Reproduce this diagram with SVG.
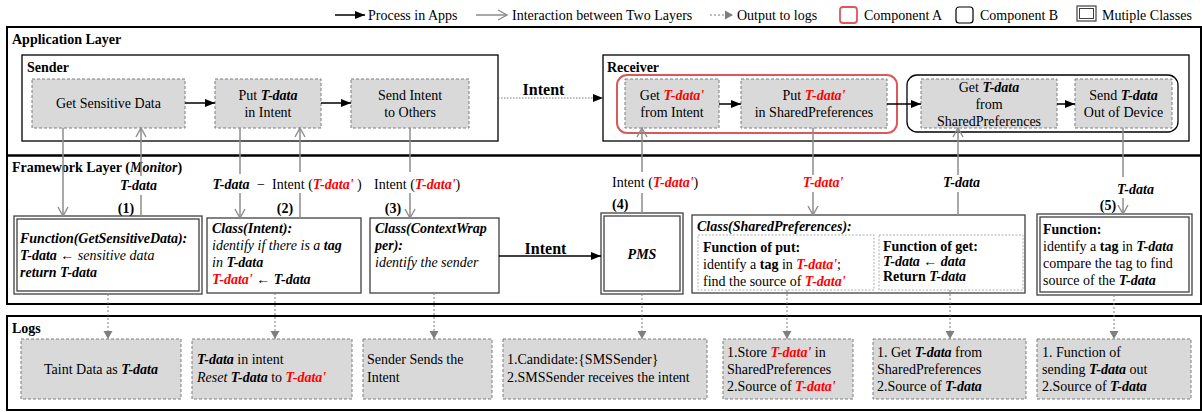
<svg xmlns="http://www.w3.org/2000/svg" width="1202" height="412" viewBox="0 0 1202 412">
<style>
text{font-family:"Liberation Serif","Times New Roman",serif;font-size:14px;fill:#000}
.b{font-weight:bold}
.i{font-style:italic}
.bi{font-weight:bold;font-style:italic}
.r{font-weight:bold;font-style:italic;fill:#ff0000}
.c{text-anchor:middle}
.big{font-size:16px;font-weight:bold}
.box{fill:#d9d9d9;stroke:#7f7f7f;stroke-dasharray:3 2;stroke-width:1}
.lay{fill:none;stroke:#000;stroke-width:2}
.cont{fill:none;stroke:#000;stroke-width:1.3}
.fw{fill:#fff;stroke:#404040;stroke-width:1.3}
.fwi{fill:none;stroke:#404040;stroke-width:1.3}
.inner{fill:none;stroke:#b0b0b0;stroke-width:1;stroke-dasharray:2 1.5}
.proc{stroke:#000;stroke-width:1.5;fill:none}
.inter{stroke:#8c8c8c;stroke-width:1.5;fill:none}
.out{stroke:#7f7f7f;stroke-width:1;stroke-dasharray:2 2;fill:none}
.pdot{stroke:#555;stroke-width:0.8;stroke-dasharray:1.5 1.5;fill:none}
</style>
<defs>
<marker id="blk" markerUnits="userSpaceOnUse" markerWidth="10" markerHeight="10" refX="10" refY="5" orient="auto"><path d="M0,1 L10,5 L0,9 z" fill="#000"/></marker>
<marker id="gry" markerUnits="userSpaceOnUse" markerWidth="12" markerHeight="12" refX="10" refY="6" orient="auto"><path d="M1,1 L10,6 L1,11" fill="none" stroke="#8c8c8c" stroke-width="1.4"/></marker>
<marker id="dot" markerUnits="userSpaceOnUse" markerWidth="10" markerHeight="10" refX="8" refY="5" orient="auto"><path d="M0,0.5 L8,5 L0,9.5 z" fill="#7f7f7f"/></marker>
</defs>
<rect width="1202" height="412" fill="#fff"/>

<g id="legend">
<line class="proc" x1="335" y1="15" x2="365" y2="15" marker-end="url(#blk)"/>
<text x="368" y="20">Process in Apps</text>
<line class="inter" x1="476" y1="15" x2="507" y2="15" marker-end="url(#gry)"/>
<text x="512" y="20">Interaction between Two Layers</text>
<line class="out" x1="710" y1="15" x2="733" y2="15" marker-end="url(#dot)"/>
<text x="737" y="20">Output to logs</text>
<rect x="840" y="7" width="17" height="16" rx="3" fill="none" stroke="#d9595c" stroke-width="1.8"/>
<text x="864" y="20">Component A</text>
<rect x="956" y="7" width="17" height="16" rx="3" fill="none" stroke="#000" stroke-width="1.2"/>
<text x="980" y="20">Component B</text>
<rect x="1077" y="6" width="19" height="15" fill="none" stroke="#404040" stroke-width="1.2"/>
<rect x="1079.5" y="8.5" width="14" height="10" fill="none" stroke="#404040" stroke-width="1"/>
<text x="1102" y="20">Mutiple Classes</text>
</g>

<g id="layers">
<rect class="lay" x="7" y="27" width="1194" height="128.5"/>
<text class="b" x="12" y="44">Application Layer</text>
<rect class="lay" x="7" y="155.5" width="1194" height="148.5"/>
<text class="b" x="12" y="172">Framework Layer (<tspan class="bi">Monitor</tspan>)</text>
<rect class="lay" x="7" y="316" width="1194" height="94"/>
<text class="b" x="12" y="333">Logs</text>
</g>

<g id="sender">
<rect class="cont" x="22" y="55" width="476" height="86"/>
<text class="b" x="27" y="72">Sender</text>
</g>
<g id="receiver">
<rect class="cont" x="603" y="55" width="586" height="86"/>
<text class="b" x="607" y="72">Receiver</text>
<rect x="617" y="75" width="280" height="58" rx="10" fill="none" stroke="#d9595c" stroke-width="2"/>
<rect x="907" y="75" width="271" height="57" rx="10" fill="none" stroke="#000" stroke-width="1.3"/>
</g>

<g id="get-sensitive-data">
<rect class="box" x="32" y="79" width="153" height="49"/>
<text class="c" x="108.5" y="108">Get Sensitive Data</text>
</g>
<g id="put-tdata-in-intent">
<rect class="box" x="215" y="79" width="106" height="49"/>
<text class="c" x="268" y="100">Put <tspan class="bi">T-data</tspan></text>
<text class="c" x="268" y="117">in Intent</text>
</g>
<g id="send-intent">
<rect class="box" x="351" y="79" width="118" height="49"/>
<text class="c" x="410" y="100">Send Intent</text>
<text class="c" x="410" y="117">to Others</text>
</g>
<g id="get-tdata-from-intent">
<rect class="box" x="625" y="79" width="94" height="49"/>
<text class="c" x="672" y="100">Get <tspan class="r">T-data'</tspan></text>
<text class="c" x="672" y="117">from Intent</text>
</g>
<g id="put-tdata-sharedprefs">
<rect class="box" x="741" y="79" width="146" height="49"/>
<text class="c" x="814" y="100">Put <tspan class="r">T-data'</tspan></text>
<text class="c" x="814" y="117">in SharedPreferences</text>
</g>
<g id="get-tdata-sharedprefs">
<rect class="box" x="921" y="79" width="136" height="49"/>
<text class="c" x="989" y="92">Get <tspan class="bi">T-data</tspan></text>
<text class="c" x="989" y="109">from</text>
<text class="c" x="989" y="126">SharedPreferences</text>
</g>
<g id="send-tdata-out">
<rect class="box" x="1075" y="79" width="97" height="49"/>
<text class="c" x="1123.5" y="100">Send <tspan class="bi">T-data</tspan></text>
<text class="c" x="1123.5" y="117">Out of Device</text>
</g>

<g id="fn-getsensitivedata">
<rect class="fw" x="14" y="216" width="188" height="78"/>
<rect class="fwi" x="17" y="219" width="182" height="72"/>
<text class="bi" x="20" y="243">Function(GetSensitiveData):</text>
<text x="20" y="260"><tspan class="bi">T-data</tspan> ← <tspan class="i">sensitive data</tspan></text>
<text class="bi" x="20" y="277">return T-data</text>
</g>
<g id="class-intent">
<rect class="fw" x="207" y="218" width="154" height="75"/>
<text class="bi" x="212" y="233">Class(Intent):</text>
<text class="i" x="212" y="250">identify if there is a <tspan class="bi">tag</tspan></text>
<text class="i" x="212" y="267">in <tspan class="bi">T-data</tspan></text>
<text x="212" y="284"><tspan class="r">T-data'</tspan> ← <tspan class="bi">T-data</tspan></text>
</g>
<g id="class-contextwrapper">
<rect class="fw" x="370" y="218" width="129" height="75"/>
<text class="bi" x="375" y="233">Class(ContextWrap</text>
<text class="bi" x="375" y="250">per):</text>
<text class="i" x="375" y="267">identify the sender</text>
</g>
<g id="pms">
<rect class="fw" x="601" y="213" width="82" height="81"/>
<rect class="fwi" x="604" y="216" width="76" height="75"/>
<text class="bi c" x="642" y="259">PMS</text>
</g>
<g id="class-sharedpreferences">
<rect class="fw" x="692" y="215" width="333" height="78"/>
<text class="bi" x="697" y="231">Class(SharedPreferences):</text>
<rect class="inner" x="698" y="235" width="176" height="55"/>
<rect class="inner" x="879" y="235" width="144" height="55"/>
<text class="b" x="703" y="252">Function of put:</text>
<text x="703" y="269">identify a <tspan class="b">tag</tspan> in <tspan class="r">T-data'</tspan>;</text>
<text x="703" y="286">find the source of <tspan class="r">T-data'</tspan></text>
<text class="b" x="883" y="251">Function of get:</text>
<text class="bi" x="883" y="266">T-data ← data</text>
<text class="b" x="883" y="281">Return <tspan class="bi">T-data</tspan></text>
</g>
<g id="fn-compare">
<rect class="fw" x="1037" y="214" width="155" height="81"/>
<rect class="fwi" x="1040" y="217" width="149" height="75"/>
<text class="b" x="1043" y="234">Function:</text>
<text x="1043" y="251">identify a <tspan class="b">tag</tspan> in <tspan class="bi">T-data</tspan></text>
<text x="1043" y="268">compare the tag to find</text>
<text x="1043" y="285">source of the <tspan class="bi">T-data</tspan></text>
</g>

<g id="log-1">
<rect class="box" x="21" y="339" width="160" height="60"/>
<text class="c" x="101" y="374">Taint Data as <tspan class="bi">T-data</tspan></text>
</g>
<g id="log-2">
<rect class="box" x="192" y="339" width="160" height="60"/>
<text x="197" y="364"><tspan class="bi">T-data</tspan> in intent</text>
<text x="197" y="382"><tspan class="i">Reset</tspan> <tspan class="bi">T-data</tspan> to <tspan class="r">T-data'</tspan></text>
</g>
<g id="log-3">
<rect class="box" x="363" y="339" width="129" height="60"/>
<text x="367" y="364">Sender Sends the</text>
<text x="367" y="382">Intent</text>
</g>
<g id="log-4">
<rect class="box" x="503" y="339" width="204" height="60"/>
<text x="507" y="364">1.Candidate:{SMSSender}</text>
<text x="507" y="382">2.SMSSender receives the intent</text>
</g>
<g id="log-5">
<rect class="box" x="723" y="339" width="130" height="60"/>
<text x="727" y="357">1.Store <tspan class="r">T-data'</tspan> in</text>
<text x="727" y="374">SharedPreferences</text>
<text x="727" y="391">2.Source of <tspan class="r">T-data'</tspan></text>
</g>
<g id="log-6">
<rect class="box" x="873" y="339" width="153" height="60"/>
<text x="877" y="357">1. Get <tspan class="bi">T-data</tspan> from</text>
<text x="877" y="374">SharedPreferences</text>
<text x="877" y="391">2.Source of <tspan class="bi">T-data</tspan></text>
</g>
<g id="log-7">
<rect class="box" x="1037" y="339" width="154" height="60"/>
<text x="1042" y="357">1. Function of</text>
<text x="1042" y="374">sending <tspan class="bi">T-data</tspan> out</text>
<text x="1042" y="391">2.Source of <tspan class="bi">T-data</tspan></text>
</g>

<g id="connectors">
<line class="proc" x1="185" y1="103" x2="215" y2="103" marker-end="url(#blk)"/>
<line class="proc" x1="321" y1="103" x2="351" y2="103" marker-end="url(#blk)"/>
<line class="pdot" x1="498" y1="98" x2="603" y2="98" marker-end="url(#blk)"/>
<text class="big c" x="543.5" y="95">Intent</text>
<line class="proc" x1="719" y1="104" x2="741" y2="104" marker-end="url(#blk)" stroke="#333"/>
<line class="proc" x1="887" y1="104" x2="921" y2="104" marker-end="url(#blk)"/>
<line class="proc" x1="1057" y1="104" x2="1075" y2="104" marker-end="url(#blk)"/>
<line class="proc" x1="499" y1="256" x2="601" y2="256" marker-end="url(#blk)"/>
<text class="big c" x="545.5" y="254">Intent</text>

<line class="inter" x1="63" y1="128" x2="63" y2="216" marker-end="url(#gry)"/>
<line class="inter" x1="141" y1="216" x2="141" y2="195"/>
<line class="inter" x1="141" y1="176" x2="141" y2="128" marker-end="url(#gry)"/>
<text class="bi c" x="138.5" y="190">T-data</text>
<text class="b c" x="126" y="213">(1)</text>

<line class="inter" x1="240" y1="128" x2="240" y2="174"/>
<line class="inter" x1="240" y1="193" x2="240" y2="218" marker-end="url(#gry)"/>
<text class="bi c" x="231" y="189">T-data</text>
<text class="c" x="261" y="189">−</text>
<line class="inter" x1="300" y1="218" x2="300" y2="193"/>
<line class="inter" x1="300" y1="172" x2="300" y2="128" marker-end="url(#gry)"/>
<text x="272" y="189">Intent (<tspan class="r">T-data'</tspan> )</text>
<text class="b c" x="285" y="213">(2)</text>

<line class="inter" x1="410" y1="128" x2="410" y2="172"/>
<line class="inter" x1="410" y1="193" x2="410" y2="218" marker-end="url(#gry)"/>
<text x="374" y="189">Intent (<tspan class="r">T-data'</tspan>)</text>
<text class="b c" x="393" y="213">(3)</text>

<line class="inter" x1="642" y1="213" x2="642" y2="193"/>
<line class="inter" x1="642" y1="172" x2="642" y2="128" marker-end="url(#gry)"/>
<text x="612" y="187">Intent (<tspan class="r">T-data'</tspan>)</text>
<text class="b" x="612" y="209">(4)</text>

<line class="inter" x1="813" y1="128" x2="813" y2="175"/>
<line class="inter" x1="813" y1="192" x2="813" y2="215" marker-end="url(#gry)"/>
<text class="r c" x="823" y="187">T-data'</text>

<line class="inter" x1="958" y1="215" x2="958" y2="192"/>
<line class="inter" x1="958" y1="175" x2="958" y2="128" marker-end="url(#gry)"/>
<text class="bi c" x="961.5" y="187">T-data</text>

<line class="inter" x1="1123" y1="128" x2="1123" y2="177"/>
<line class="inter" x1="1123" y1="198" x2="1123" y2="214" marker-end="url(#gry)"/>
<text class="bi c" x="1135.5" y="194">T-data</text>
<text class="b c" x="1108" y="210">(5)</text>

<line class="out" x1="108" y1="294" x2="108" y2="339" marker-end="url(#dot)"/>
<line class="out" x1="275" y1="293" x2="275" y2="339" marker-end="url(#dot)"/>
<line class="out" x1="434" y1="293" x2="434" y2="339" marker-end="url(#dot)"/>
<line class="out" x1="642" y1="294" x2="642" y2="339" marker-end="url(#dot)"/>
<line class="out" x1="787" y1="290" x2="787" y2="339" marker-end="url(#dot)"/>
<line class="out" x1="950" y1="290" x2="950" y2="339" marker-end="url(#dot)"/>
<line class="out" x1="1114" y1="295" x2="1114" y2="339" marker-end="url(#dot)"/>
</g>
</svg>
